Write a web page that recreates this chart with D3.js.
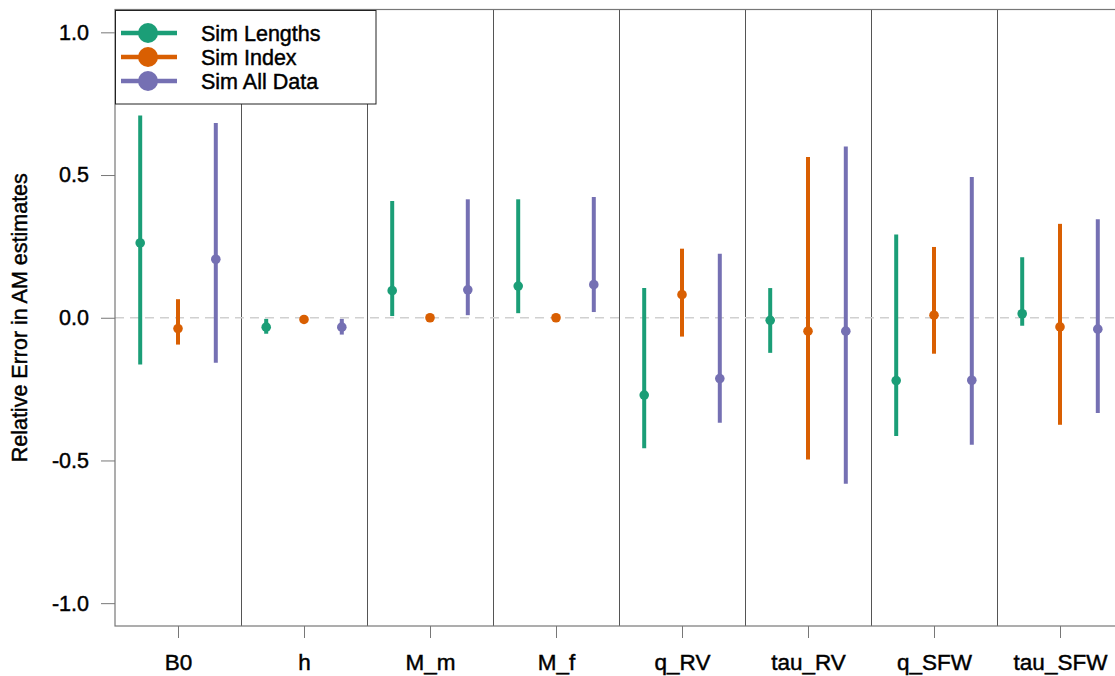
<!DOCTYPE html>
<html>
<head>
<meta charset="utf-8">
<script src="https://cdn.jsdelivr.net/npm/d3@7"></script>
<style>
  html, body { margin: 0; padding: 0; background: #fff; }
  svg { display: block; font-family: "Liberation Sans", Arial, sans-serif; }
  .lbl { stroke: #000; stroke-width: 0.45px; paint-order: fill; }
</style>
</head>
<body>
<svg id="chart" width="1115" height="676"></svg>
<script>
// Parameters estimated in each simulation scenario
const params = ["B0", "h", "M_m", "M_f", "q_RV", "tau_RV", "q_SFW", "tau_SFW"];
const seriesNames = ["Sim Lengths", "Sim Index", "Sim All Data"];
const seriesColors = ["#1B9E77", "#D95F02", "#7570B3"];

// Median relative error and lower / upper interval bounds per parameter
const lengthsMid = [0.262, -0.033, 0.095, 0.111, -0.271, -0.009, -0.220, 0.014];
const lengthsLo  = [-0.164, -0.056, 0.006, 0.016, -0.457, -0.123, -0.414, -0.028];
const lengthsHi  = [0.709, -0.004, 0.409, 0.415, 0.104, 0.104, 0.292, 0.212];

const indexMid = [-0.038, -0.006, 0.000, 0.000, 0.081, -0.047, 0.009, -0.032];
const indexLo  = [-0.094, -0.008, -0.002, -0.002, -0.066, -0.497, -0.126, -0.375];
const indexHi  = [0.065, -0.004, 0.002, 0.002, 0.242, 0.563, 0.248, 0.329];

const allMid = [0.205, -0.033, 0.098, 0.116, -0.213, -0.047, -0.219, -0.040];
const allLo  = [-0.158, -0.059, 0.009, 0.020, -0.368, -0.582, -0.445, -0.334];
const allHi  = [0.682, -0.004, 0.415, 0.423, 0.224, 0.600, 0.493, 0.345];

const yTicks = [-1.0, -0.5, 0.0, 0.5, 1.0];
const yTitle = "Relative Error in AM estimates";

const series = [
  { name: seriesNames[0], color: seriesColors[0], mid: lengthsMid, lo: lengthsLo, hi: lengthsHi, offset: -0.3 },
  { name: seriesNames[1], color: seriesColors[1], mid: indexMid, lo: indexLo, hi: indexHi, offset: 0 },
  { name: seriesNames[2], color: seriesColors[2], mid: allMid, lo: allLo, hi: allHi, offset: 0.3 }
];

const svg = d3.select("#chart");
const margin = { left: 115, top: 9.5, bottom: 626 };
const groupW = 126;

const x = d3.scaleLinear().domain([0, params.length]).range([margin.left, margin.left + groupW * params.length]);
const y = d3.scaleLinear().domain([-1.08, 1.08]).range([margin.bottom, margin.top]);

const plotRight = x(params.length);

// Group separators
svg.append("g").selectAll("line")
  .data(d3.range(1, params.length))
  .join("line")
  .attr("x1", d => Math.round(x(d)) + 0.5).attr("x2", d => Math.round(x(d)) + 0.5)
  .attr("y1", margin.top).attr("y2", margin.bottom)
  .attr("stroke", "#555").attr("stroke-width", 1);

// Zero reference line
svg.append("line")
  .attr("x1", margin.left).attr("x2", plotRight)
  .attr("y1", y(0)).attr("y2", y(0))
  .attr("stroke", "#d0d0d0").attr("stroke-width", 1.5)
  .attr("stroke-dasharray", "9,6");

// Plot frame
svg.append("rect")
  .attr("x", margin.left).attr("y", margin.top)
  .attr("width", plotRight - margin.left).attr("height", margin.bottom - margin.top)
  .attr("fill", "none").attr("stroke", "#777").attr("stroke-width", 1.2);

// Y axis
const yAxis = d3.axisLeft(y).tickValues(yTicks).tickSize(14).tickPadding(12);
const yg = svg.append("g").attr("transform", `translate(${margin.left},0)`).call(yAxis);
yg.select(".domain").remove();
yg.selectAll(".tick line").attr("stroke", "#777");
yg.selectAll(".tick text").attr("class", "lbl").attr("font-size", 21.5).attr("fill", "#000")
  .attr("font-family", "Liberation Sans, Arial, sans-serif")
  .text(d => d < 0 ? "-" + Math.abs(d).toFixed(1) : d.toFixed(1));

// X axis with ticks at group centres
const xAxis = d3.axisBottom(x).tickValues(params.map((p, i) => i + 0.5))
  .tickFormat((d, i) => params[i]).tickSize(12).tickPadding(16);
const xg = svg.append("g").attr("transform", `translate(0,${margin.bottom})`).call(xAxis);
xg.select(".domain").remove();
xg.selectAll(".tick line").attr("stroke", "#777");
xg.selectAll(".tick text").attr("class", "lbl").attr("font-size", 22.5).attr("fill", "#000")
  .attr("font-family", "Liberation Sans, Arial, sans-serif");

// Y axis title
svg.append("text").attr("class", "lbl")
  .attr("transform", `translate(19,${y(0)}) rotate(-90)`)
  .attr("text-anchor", "middle").attr("dy", "0.35em")
  .attr("font-size", 21.5).attr("fill", "#000")
  .text(yTitle);

// Interval bars and median points
series.forEach(s => {
  const g = svg.append("g");
  g.selectAll("line")
    .data(params.map((p, i) => i))
    .join("line")
    .attr("x1", i => x(i + 0.5 + s.offset)).attr("x2", i => x(i + 0.5 + s.offset))
    .attr("y1", i => y(s.lo[i])).attr("y2", i => y(s.hi[i]))
    .attr("stroke", s.color).attr("stroke-width", 4);
  g.selectAll("circle")
    .data(params.map((p, i) => i))
    .join("circle")
    .attr("cx", i => x(i + 0.5 + s.offset)).attr("cy", i => y(s.mid[i]))
    .attr("r", 4.8).attr("fill", s.color);
});

// Legend
const legend = svg.append("g");
legend.append("rect")
  .attr("x", 115.5).attr("y", 10.5).attr("width", 260.5).attr("height", 93.5)
  .attr("fill", "#fff").attr("stroke", "#222").attr("stroke-width", 1);
series.forEach((s, k) => {
  const ry = 33 + k * 24;
  legend.append("line").attr("x1", 121).attr("x2", 177).attr("y1", ry).attr("y2", ry)
    .attr("stroke", s.color).attr("stroke-width", 4.5);
  legend.append("circle").attr("cx", 148).attr("cy", ry).attr("r", 10).attr("fill", s.color);
  legend.append("text").attr("class", "lbl").attr("x", 201).attr("y", ry).attr("dy", "0.36em")
    .attr("font-size", 21.5).attr("fill", "#000").text(s.name);
});
</script>
</body>
</html>
